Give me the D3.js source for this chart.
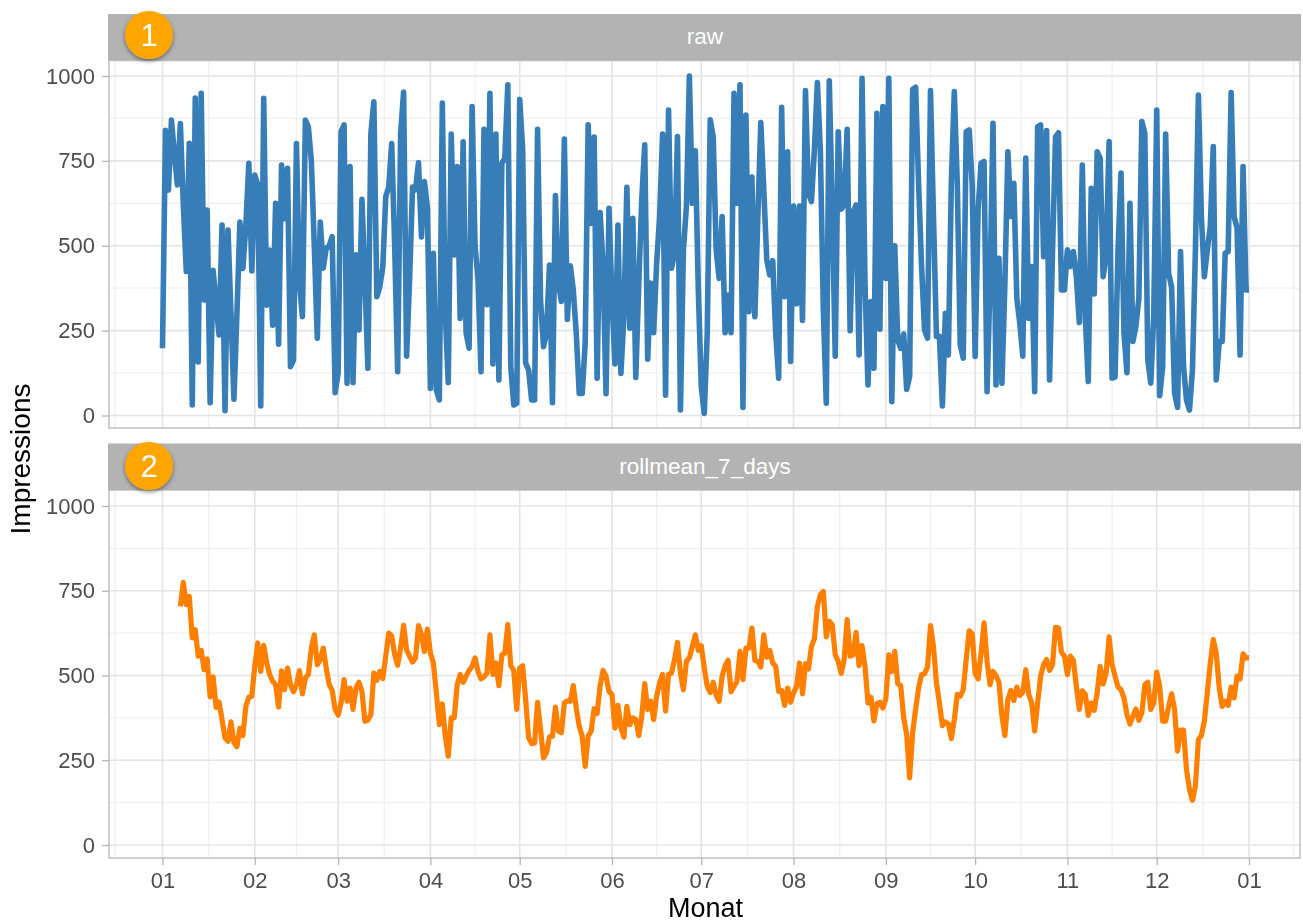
<!DOCTYPE html>
<html>
<head>
<meta charset="utf-8">
<script src="https://cdn.jsdelivr.net/npm/d3@7"></script>
<style>
  html, body { margin: 0; background: #fff; }
  /* the reference is a slightly soft screenshot */
  svg { display: block; font-family: "Liberation Sans", Arial, sans-serif; filter: blur(0.45px); }
</style>
</head>
<body>
<svg id="chart" width="1303" height="924"></svg>
<script>
// values, one per day from 1 Jan
const rawValues = [
  198,840,664,870,770,679,860,620,424,802,31,935,158,949,340,605,38,428,330,237,561,14,546,300,48,300,570,433,560,743,426,
  708,680,28,934,325,487,266,625,210,738,580,728,144,163,801,390,291,870,850,750,500,228,570,434,493,500,527,
  67,125,836,856,95,733,97,473,252,637,400,139,830,924,350,379,437,645,673,801,500,129,830,953,175,400,673,665,745,526,689,610,
  80,478,75,46,920,300,97,829,473,733,286,806,243,198,910,500,400,129,843,326,949,152,829,105,743,758,
  974,144,31,36,931,782,154,134,46,46,843,340,203,242,443,38,648,390,336,814,283,441,370,242,65,65,213,856,566,820,110,
  598,440,64,610,340,152,561,124,290,672,257,581,112,390,635,797,166,390,244,448,586,829,60,900,434,478,822,16,488,615,1000,625,780,370,
  85,6,242,871,822,488,404,586,244,355,244,949,625,974,24,885,306,702,291,586,863,664,458,414,456,242,110,908,350,777,159,
  617,329,617,280,957,655,630,782,981,782,311,36,986,606,175,836,608,620,843,250,600,620,178,993,390,90,336,139,890,254,
  910,404,993,41,500,223,198,240,77,115,961,967,684,440,252,228,957,586,233,233,28,301,178,684,954,684,208,169,836,841,
  684,174,606,743,748,70,390,861,90,463,95,390,777,586,684,345,272,175,758,286,439,70,851,856,468,839,105,488,820,833,
  370,370,488,439,483,409,274,738,291,100,669,358,777,758,409,468,807,110,113,488,714,242,126,625,218,262,345,866,831,
  164,95,291,900,58,144,829,419,378,66,24,483,144,46,16,134,488,944,586,409,488,557,792,105,218,218,478,483,951,586,552,178,733,370,370
];

// the 7 day mean starts on day 7 of the year
const rollStart = 6;
const rollValues = [
  704,775,709,733,611,635,557,574,517,549,437,496,406,422,370,316,306,363,303,290,344,323,409,436,439,
  527,596,512,589,537,503,483,473,407,514,458,522,473,452,473,514,446,493,503,581,620,532,547,581,522,473,456,400,
  383,419,488,424,463,400,463,480,453,365,368,385,507,486,512,491,557,625,617,562,530,581,648,576,557,540,552,647,620,571,637,566,537,
  449,355,416,321,262,375,375,473,503,480,498,515,527,552,512,490,496,507,620,503,537,470,561,566,650,529,515,400,522,529,429,316,299,301,
  421,341,257,272,319,321,407,336,331,419,425,424,470,404,350,321,232,321,336,402,388,468,515,498,453,444,345,412,345,318,409,355,375,370,323,
  380,476,400,424,370,439,478,503,395,503,507,547,598,507,458,542,552,586,620,574,588,522,468,450,480,441,424,498,529,545,452,468,483,571,488,581,
  581,640,544,542,525,620,554,574,537,527,453,456,412,463,421,449,468,537,446,535,519,586,608,704,738,748,614,660,650,561,542,506,547,665,557,561,
  627,529,588,527,419,436,366,417,421,404,431,561,512,571,476,470,375,326,198,331,400,463,503,505,525,647,586,478,419,352,363,358,314,370,444,439,458,
  547,632,623,507,490,566,655,542,473,512,500,480,380,323,429,456,426,466,441,450,517,444,419,336,419,498,532,547,515,532,642,640,568,557,503,557,545,
  468,400,455,444,382,419,397,449,527,475,507,614,532,498,466,458,434,385,357,380,401,368,390,473,480,400,419,510,468,365,365,409,446,400,277,339,339,
  223,164,132,174,311,323,365,449,537,606,566,463,409,424,412,466,434,498,490,564,552,552
];

const monthLabels = ["01","02","03","04","05","06","07","08","09","10","11","12","01"];
const yTicks = [0, 250, 500, 750, 1000];
const yMinorTicks = [125, 375, 625, 875];
const panelNames = ["raw", "rollmean_7_days"];
const badgeLabels = ["1", "2"];

const startDate = new Date(2017, 0, 1);
const dayToDate = i => d3.timeDay.offset(startDate, i);
const monthBreaks = monthLabels.map((d, i) => new Date(2017, i, 1));

// minor grid sits half way between the months, plus one on each side
const monthMinor = [dayToDate(-15.5)];
monthBreaks.slice(1).forEach((d, i) => {
  monthMinor.push(new Date((+d + +monthBreaks[i]) / 2));
});
monthMinor.push(dayToDate(365 + 15.5));

const svg = d3.select("#chart");
const panelLeft = 109, panelRight = 1300;

const x = d3.scaleTime()
  .domain([monthBreaks[0], monthBreaks[12]])
  .range([162.5, 1249]);

const defs = svg.append("defs");
const shadow = defs.append("filter").attr("id", "badgeShadow")
  .attr("x", "-30%").attr("y", "-30%").attr("width", "160%").attr("height", "160%");
shadow.append("feDropShadow")
  .attr("dx", 0).attr("dy", 2).attr("stdDeviation", 2)
  .attr("flood-color", "#000").attr("flood-opacity", 0.45);

function drawPanel(opt) {
  const y = d3.scaleLinear().domain([0, 1000]).range([opt.y0, opt.y1000]);
  const g = svg.append("g");

  // grid
  g.selectAll(".ymin").data(yMinorTicks).join("line")
    .attr("x1", panelLeft).attr("x2", panelRight)
    .attr("y1", d => y(d)).attr("y2", d => y(d))
    .attr("stroke", "#f0f0f0").attr("stroke-width", 1.3);
  g.selectAll(".xmin").data(monthMinor).join("line")
    .attr("x1", d => x(d)).attr("x2", d => x(d))
    .attr("y1", opt.top).attr("y2", opt.bottom)
    .attr("stroke", "#f0f0f0").attr("stroke-width", 1.3);
  g.selectAll(".ymaj").data(yTicks).join("line")
    .attr("x1", panelLeft).attr("x2", panelRight)
    .attr("y1", d => y(d)).attr("y2", d => y(d))
    .attr("stroke", "#e4e4e4").attr("stroke-width", 1.6);
  g.selectAll(".xmaj").data(monthBreaks).join("line")
    .attr("x1", d => x(d)).attr("x2", d => x(d))
    .attr("y1", opt.top).attr("y2", opt.bottom)
    .attr("stroke", "#e4e4e4").attr("stroke-width", 1.6);

  // series
  const line = d3.line().x(d => x(d.date)).y(d => y(d.value));
  g.append("path")
    .attr("d", line(opt.series))
    .attr("fill", "none")
    .attr("stroke", opt.color)
    .attr("stroke-width", opt.lineWidth)
    .attr("stroke-linejoin", "round")
    .attr("stroke-linecap", "butt");

  // border
  g.append("rect")
    .attr("x", panelLeft).attr("y", opt.top)
    .attr("width", panelRight - panelLeft).attr("height", opt.bottom - opt.top)
    .attr("fill", "none").attr("stroke", "#c0c0c0").attr("stroke-width", 1.5);

  // y axis
  const yAxis = d3.axisLeft(y).tickValues(yTicks).tickSize(7).tickPadding(7).tickFormat(d3.format("d"));
  const yG = g.append("g").attr("transform", `translate(${panelLeft},0)`).call(yAxis);
  yG.select(".domain").remove();
  yG.selectAll("line").attr("stroke", "#b5b5b5").attr("stroke-width", 1.3);
  yG.selectAll("text").attr("fill", "#4d4d4d").style("font-size", "22px");

  // strip
  g.append("rect")
    .attr("x", panelLeft - 1).attr("y", opt.stripTop)
    .attr("width", panelRight - panelLeft + 2).attr("height", opt.top - opt.stripTop)
    .attr("fill", "#b3b3b3");
  g.append("text")
    .attr("x", (panelLeft + panelRight) / 2 + 0.5)
    .attr("y", (opt.stripTop + opt.top) / 2 + 7)
    .attr("text-anchor", "middle")
    .attr("fill", "#fff")
    .style("font-size", "22.5px")
    .text(opt.name);

  // numbered badge
  g.append("circle")
    .attr("cx", 149).attr("cy", opt.badgeY).attr("r", 24)
    .attr("fill", "#ffa500")
    .attr("filter", "url(#badgeShadow)");
  g.append("text")
    .attr("x", 149).attr("y", opt.badgeY + 11)
    .attr("text-anchor", "middle")
    .attr("fill", "#fff")
    .style("font-size", "31px")
    .text(opt.badge);

  return g;
}

const rawSeries = rawValues.map((v, i) => ({ date: dayToDate(i), value: v }));
const rollSeries = rollValues.map((v, i) => ({ date: dayToDate(rollStart + i), value: v }));

drawPanel({
  name: panelNames[0], badge: badgeLabels[0], series: rawSeries, color: "#377eb8", lineWidth: 5.6,
  stripTop: 14, top: 60.5, bottom: 428, y0: 415.5, y1000: 76, badgeY: 35
});
drawPanel({
  name: panelNames[1], badge: badgeLabels[1], series: rollSeries, color: "#ff7f00", lineWidth: 5.2,
  stripTop: 443.5, top: 490, bottom: 858, y0: 845, y1000: 506, badgeY: 466
});

// x axis only under the lower panel
const xAxis = d3.axisBottom(x)
  .tickValues(monthBreaks)
  .tickSize(7)
  .tickPadding(7)
  .tickFormat((d, i) => monthLabels[i]);
const xG = svg.append("g").attr("transform", "translate(0,858)").call(xAxis);
xG.select(".domain").remove();
xG.selectAll("line").attr("stroke", "#b5b5b5").attr("stroke-width", 1.3);
xG.selectAll("text").attr("fill", "#4d4d4d").style("font-size", "22px");

svg.append("text")
  .attr("x", 705.5).attr("y", 916.5)
  .attr("text-anchor", "middle")
  .attr("fill", "#000")
  .style("font-size", "27px")
  .text("Monat");

svg.append("text")
  .attr("transform", "translate(29.5,459) rotate(-90)")
  .attr("text-anchor", "middle")
  .attr("fill", "#000")
  .style("font-size", "28px")
  .text("Impressions");
</script>
</body>
</html>
